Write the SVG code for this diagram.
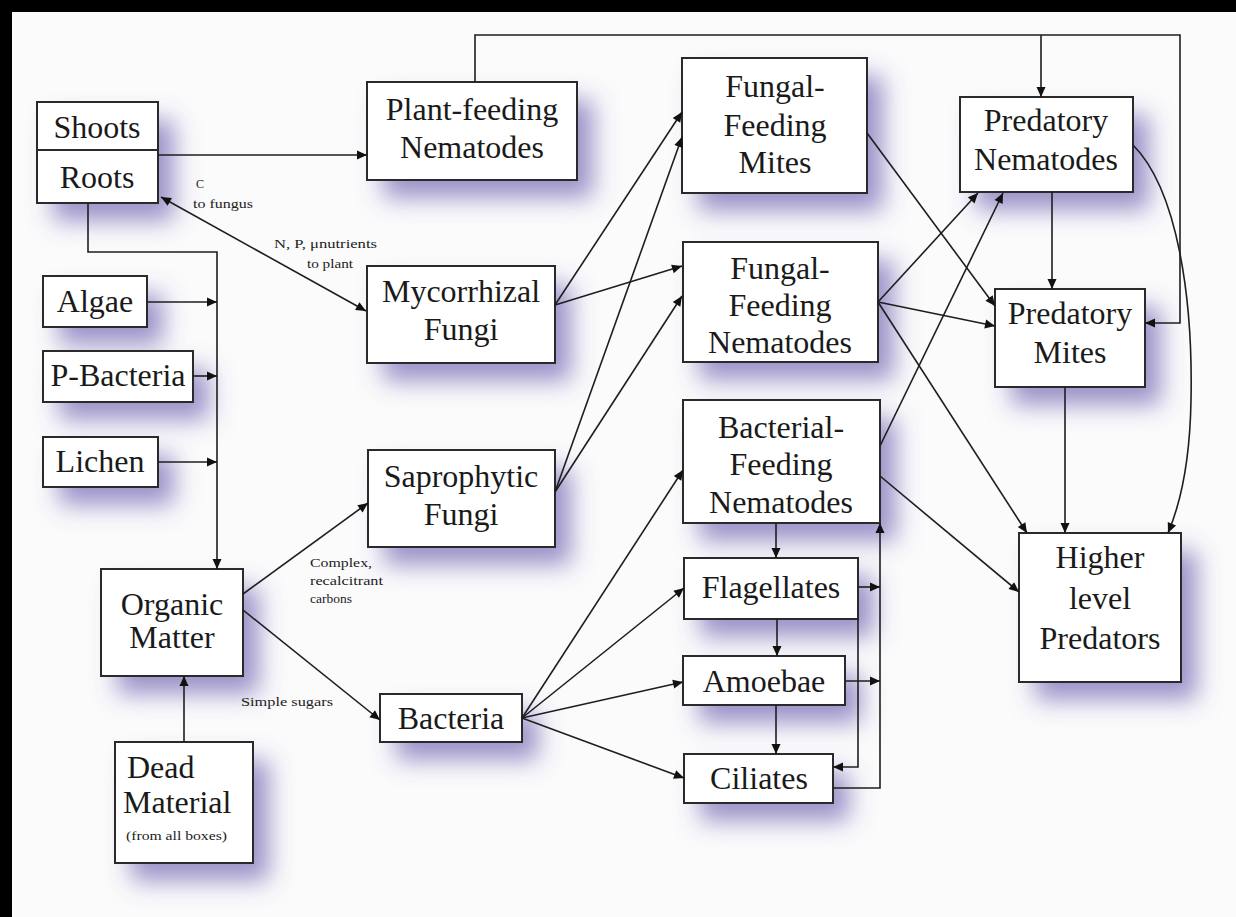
<svg xmlns="http://www.w3.org/2000/svg" width="1236" height="917" viewBox="0 0 1236 917">
<defs>
<style>
.box{fill:#ffffff;stroke:#2a2a2a;stroke-width:2}
.sh{fill:#000}
.t{font-family:"Liberation Serif","Times New Roman",serif;font-size:32px;fill:#1a1a1a;text-anchor:middle}
.s{font-family:"Liberation Serif","Times New Roman",serif;font-size:12px;fill:#222}
.c{fill:none;stroke:#1e1e1e;stroke-width:1.6}
</style>
<marker id="a" viewBox="0 0 10 10" refX="10" refY="5" markerWidth="11" markerHeight="10" markerUnits="userSpaceOnUse" orient="auto-start-reverse">
<path d="M0,0.5 L10,5 L0,9.5 z" fill="#111"/>
</marker>
<filter id="blur" x="-40%" y="-40%" width="200%" height="220%">
<feGaussianBlur in="SourceAlpha" stdDeviation="12"/>
<feOffset dx="16" dy="18" result="b"/>
<feFlood flood-color="#5f52a8" flood-opacity="0.62"/>
<feComposite in2="b" operator="in"/>
</filter>
</defs>

<rect x="0" y="0" width="1236" height="917" fill="#fbfbfc"/>
<rect x="0" y="0" width="1236" height="12" fill="#000"/>
<rect x="0" y="0" width="12" height="917" fill="#000"/>

<g id="shadows" filter="url(#blur)">
<rect class="sh" x="37" y="102" width="121" height="101"/>
<rect class="sh" x="367" y="82" width="210" height="98"/>
<rect class="sh" x="682" y="58" width="185" height="135"/>
<rect class="sh" x="960" y="97" width="173" height="95"/>
<rect class="sh" x="995" y="289" width="150" height="98"/>
<rect class="sh" x="1019" y="533" width="162" height="149"/>
<rect class="sh" x="367" y="266" width="188" height="97"/>
<rect class="sh" x="368" y="450" width="187" height="97"/>
<rect class="sh" x="683" y="242" width="195" height="120"/>
<rect class="sh" x="683" y="400" width="197" height="123"/>
<rect class="sh" x="684" y="558" width="174" height="61"/>
<rect class="sh" x="683" y="656" width="162" height="49"/>
<rect class="sh" x="684" y="754" width="149" height="49"/>
<rect class="sh" x="380" y="694" width="142" height="48"/>
<rect class="sh" x="101" y="569" width="142" height="107"/>
<rect class="sh" x="115" y="742" width="138" height="121"/>
<rect class="sh" x="43" y="276" width="104" height="51"/>
<rect class="sh" x="43" y="351" width="150" height="51"/>
<rect class="sh" x="43" y="437" width="115" height="50"/>
</g>

<g id="shoots-roots">
<rect class="box" x="37" y="102" width="121" height="101"/>
<line x1="37" y1="150" x2="158" y2="150" stroke="#2a2a2a" stroke-width="2"/>
<text class="t" x="97" y="138">Shoots</text>
<text class="t" x="97" y="188">Roots</text>
</g>
<g id="plant-feeding-nematodes">
<rect class="box" x="367" y="82" width="210" height="98"/>
<text class="t" x="472" y="120">Plant-feeding</text>
<text class="t" x="472" y="158">Nematodes</text>
</g>
<g id="fungal-feeding-mites">
<rect class="box" x="682" y="58" width="185" height="135"/>
<text class="t" x="775" y="97">Fungal-</text>
<text class="t" x="775" y="136">Feeding</text>
<text class="t" x="775" y="173">Mites</text>
</g>
<g id="predatory-nematodes">
<rect class="box" x="960" y="97" width="173" height="95"/>
<text class="t" x="1046" y="131">Predatory</text>
<text class="t" x="1046" y="170">Nematodes</text>
</g>
<g id="predatory-mites">
<rect class="box" x="995" y="289" width="150" height="98"/>
<text class="t" x="1070" y="324">Predatory</text>
<text class="t" x="1070" y="363">Mites</text>
</g>
<g id="higher-level-predators">
<rect class="box" x="1019" y="533" width="162" height="149"/>
<text class="t" x="1100" y="568">Higher</text>
<text class="t" x="1100" y="609">level</text>
<text class="t" x="1100" y="649">Predators</text>
</g>
<g id="mycorrhizal-fungi">
<rect class="box" x="367" y="266" width="188" height="97"/>
<text class="t" x="461" y="302">Mycorrhizal</text>
<text class="t" x="461" y="340">Fungi</text>
</g>
<g id="saprophytic-fungi">
<rect class="box" x="368" y="450" width="187" height="97"/>
<text class="t" x="461" y="487">Saprophytic</text>
<text class="t" x="461" y="525">Fungi</text>
</g>
<g id="fungal-feeding-nematodes">
<rect class="box" x="683" y="242" width="195" height="120"/>
<text class="t" x="780" y="279">Fungal-</text>
<text class="t" x="780" y="316">Feeding</text>
<text class="t" x="780" y="353">Nematodes</text>
</g>
<g id="bacterial-feeding-nematodes">
<rect class="box" x="683" y="400" width="197" height="123"/>
<text class="t" x="781" y="438">Bacterial-</text>
<text class="t" x="781" y="475">Feeding</text>
<text class="t" x="781" y="513">Nematodes</text>
</g>
<g id="flagellates">
<rect class="box" x="684" y="558" width="174" height="61"/>
<text class="t" x="771" y="598">Flagellates</text>
</g>
<g id="amoebae">
<rect class="box" x="683" y="656" width="162" height="49"/>
<text class="t" x="764" y="692">Amoebae</text>
</g>
<g id="ciliates">
<rect class="box" x="684" y="754" width="149" height="49"/>
<text class="t" x="759" y="789">Ciliates</text>
</g>
<g id="bacteria">
<rect class="box" x="380" y="694" width="142" height="48"/>
<text class="t" x="451" y="729">Bacteria</text>
</g>
<g id="organic-matter">
<rect class="box" x="101" y="569" width="142" height="107"/>
<text class="t" x="172" y="615">Organic</text>
<text class="t" x="172" y="648">Matter</text>
</g>
<g id="dead-material">
<rect class="box" x="115" y="742" width="138" height="121"/>
<text class="t" x="127" y="778" style="text-anchor:start">Dead</text>
<text class="t" x="123" y="813" style="text-anchor:start">Material</text>
<text class="s" x="126" y="840" style="font-size:13px" textLength="101" lengthAdjust="spacingAndGlyphs">(from all boxes)</text>
</g>
<g id="algae">
<rect class="box" x="43" y="276" width="104" height="51"/>
<text class="t" x="95" y="312">Algae</text>
</g>
<g id="p-bacteria">
<rect class="box" x="43" y="351" width="150" height="51"/>
<text class="t" x="118" y="386">P-Bacteria</text>
</g>
<g id="lichen">
<rect class="box" x="43" y="437" width="115" height="50"/>
<text class="t" x="100" y="472">Lichen</text>
</g>

<g id="connectors" class="c">
<path class="c" d="M158,155 H367" marker-end="url(#a)"/>
<path class="c" d="M161,197 L366,311" marker-start="url(#a)" marker-end="url(#a)"/>
<path class="c" d="M475,82 V35 H1180 V323 H1145" marker-end="url(#a)"/>
<path class="c" d="M1041,35 V97" marker-end="url(#a)"/>
<path class="c" d="M88,203 V252 H217 V569" marker-end="url(#a)"/>
<path class="c" d="M147,302 H217" marker-end="url(#a)"/>
<path class="c" d="M193,376 H217" marker-end="url(#a)"/>
<path class="c" d="M158,462 H217" marker-end="url(#a)"/>
<path class="c" d="M184,742 V676" marker-end="url(#a)"/>
<path class="c" d="M243,594 L368,503" marker-end="url(#a)"/>
<path class="c" d="M243,610 L380,720" marker-end="url(#a)"/>
<path class="c" d="M555,305 L682,112" marker-end="url(#a)"/>
<path class="c" d="M555,305 L682,266" marker-end="url(#a)"/>
<path class="c" d="M555,492 L682,137" marker-end="url(#a)"/>
<path class="c" d="M555,492 L682,296" marker-end="url(#a)"/>
<path class="c" d="M867,133 L995,306" marker-end="url(#a)"/>
<path class="c" d="M878,302 L978,193" marker-end="url(#a)"/>
<path class="c" d="M878,302 L995,326" marker-end="url(#a)"/>
<path class="c" d="M878,302 L1027,533" marker-end="url(#a)"/>
<path class="c" d="M880,446 L1003,193" marker-end="url(#a)"/>
<path class="c" d="M880,476 L1019,592" marker-end="url(#a)"/>
<path class="c" d="M1052,192 V289" marker-end="url(#a)"/>
<path class="c" d="M1065,387 V533" marker-end="url(#a)"/>
<path class="c" d="M1133,145 C1178,190 1193,300 1191,400 C1190,460 1182,500 1168,533" marker-end="url(#a)"/>
<path class="c" d="M522,718 L683,470" marker-end="url(#a)"/>
<path class="c" d="M522,718 L684,588" marker-end="url(#a)"/>
<path class="c" d="M522,718 L683,682" marker-end="url(#a)"/>
<path class="c" d="M522,718 L684,778" marker-end="url(#a)"/>
<path class="c" d="M776,523 V558" marker-end="url(#a)"/>
<path class="c" d="M777,619 V656" marker-end="url(#a)"/>
<path class="c" d="M776,705 V754" marker-end="url(#a)"/>
<path class="c" d="M858,587 H880" marker-end="url(#a)"/>
<path class="c" d="M845,681 H880" marker-end="url(#a)"/>
<path class="c" d="M858,619 V767 H833" marker-end="url(#a)"/>
<path class="c" d="M833,788 H880 V523" marker-end="url(#a)"/>
</g>

<g id="labels">
<text class="s" x="196" y="188">C</text>
<text class="s" x="193" y="208" textLength="60" lengthAdjust="spacingAndGlyphs">to fungus</text>
<text class="s" x="274" y="248" textLength="103" lengthAdjust="spacingAndGlyphs">N, P, μnutrients</text>
<text class="s" x="307" y="268" textLength="46" lengthAdjust="spacingAndGlyphs">to plant</text>
<text class="s" x="310" y="567" textLength="62" lengthAdjust="spacingAndGlyphs">Complex,</text>
<text class="s" x="310" y="585" textLength="73" lengthAdjust="spacingAndGlyphs">recalcitrant</text>
<text class="s" x="310" y="603" textLength="42" lengthAdjust="spacingAndGlyphs">carbons</text>
<text class="s" x="241" y="706" textLength="92" lengthAdjust="spacingAndGlyphs">Simple sugars</text>
</g>
</svg>
